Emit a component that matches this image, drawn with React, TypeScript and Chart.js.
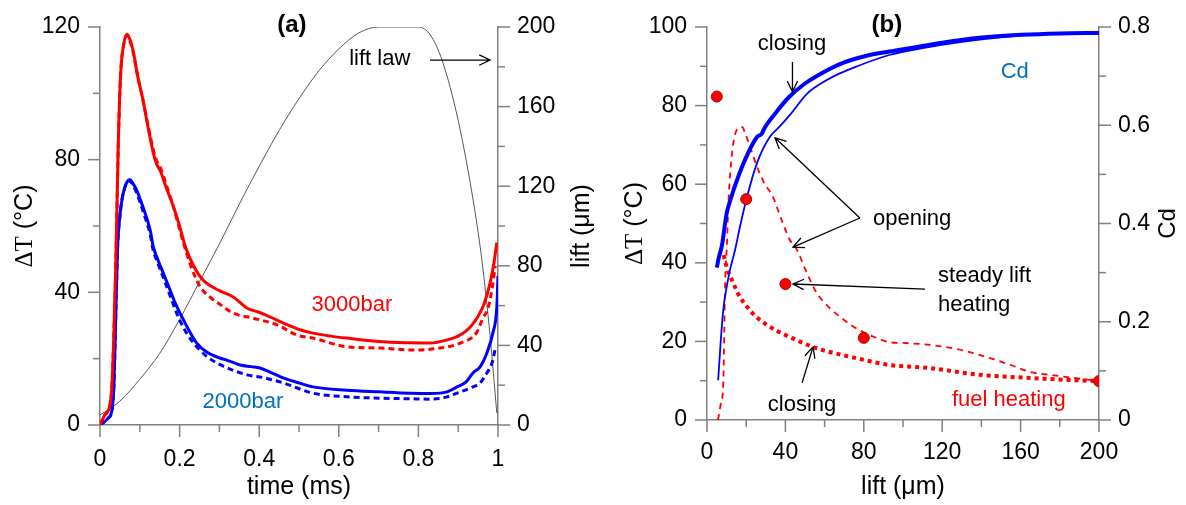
import { useEffect, useRef } from "react";
import { Chart, registerables } from "chart.js";

Chart.register(...registerables);

const SANS = '"Liberation Sans", Arial, Helvetica, sans-serif';
const SERIF = '"Liberation Serif", "Times New Roman", serif';
const AXIS_GREY = "#808080";
const RED = "#ff0000";
const BLUE = "#0000ff";
const LABEL_BLUE = "#0070c0";

// ---------- panel (a): temperature rise over the injection event ----------
const TIME_TICKS = [0, 0.2, 0.4, 0.6, 0.8, 1];
const TIME_MINOR = [0.1, 0.3, 0.5, 0.7, 0.9];
const DT_A_TICKS = [0, 40, 80, 120];
const DT_A_MINOR = [20, 60, 100];
const LIFT_A_TICKS = [0, 40, 80, 120, 160, 200];
const LIFT_A_MINOR = [20, 60, 100, 140, 180];

// needle lift law (µm) vs time (ms)
const liftLawTime = [0, 0.05, 0.1, 0.15, 0.2, 0.25, 0.3, 0.35, 0.4, 0.45, 0.5, 0.55, 0.6, 0.65, 0.7, 0.8, 0.83, 0.86, 0.9, 0.94, 0.96, 0.98, 0.997];
const liftLaw = [5, 12, 23, 36, 53, 72, 91, 111, 130, 148, 164, 178, 189, 197, 200, 200, 196, 183, 153, 110, 82, 45, 6];

// 3000 bar, solid curve
const t3000Solid = [0, 0.012, 0.025, 0.03, 0.035, 0.04, 0.046, 0.052, 0.06, 0.068, 0.076, 0.083, 0.095, 0.108, 0.122, 0.134, 0.143, 0.152, 0.165, 0.184, 0.2, 0.214, 0.235, 0.259, 0.3, 0.335, 0.37, 0.4, 0.427, 0.46, 0.5, 0.535, 0.58, 0.62, 0.7, 0.78, 0.83, 0.87, 0.9, 0.93, 0.95, 0.965, 0.98, 0.99, 0.997];
const dT3000Solid = [0, 3, 6, 12, 28, 50, 85, 106, 115, 117.8, 116, 113, 105, 98, 89, 82, 78.5, 76.5, 72, 66, 60, 54, 48, 43.7, 40.5, 38.6, 35.2, 34, 32.6, 30.8, 28.8, 27.7, 26.8, 26.2, 25.2, 24.8, 24.7, 25.6, 26.8, 29.5, 32.8, 36.5, 42.8, 49, 55];

// 3000 bar, dashed curve
const t3000Dashed = [0, 0.012, 0.025, 0.03, 0.035, 0.04, 0.046, 0.052, 0.06, 0.068, 0.076, 0.083, 0.095, 0.108, 0.122, 0.134, 0.143, 0.152, 0.165, 0.184, 0.2, 0.226, 0.25, 0.276, 0.3, 0.335, 0.385, 0.445, 0.495, 0.535, 0.62, 0.703, 0.787, 0.854, 0.905, 0.947, 0.962, 0.975, 0.985, 0.993];
const dT3000Dashed = [0, 3, 6, 12, 28, 50, 85, 106, 115, 117.5, 115.5, 112.5, 105, 98, 89.5, 83, 79.5, 77.5, 73, 66, 59, 48.7, 42, 38.6, 36.5, 33.7, 32.2, 30.2, 27.1, 26.2, 23.6, 23.2, 22.6, 23.2, 24.7, 28, 32.2, 35.2, 41, 48];

// 2000 bar, solid curve
const t2000Solid = [0, 0.02, 0.03, 0.035, 0.04, 0.044, 0.05, 0.056, 0.062, 0.068, 0.075, 0.082, 0.092, 0.108, 0.126, 0.134, 0.143, 0.159, 0.176, 0.19, 0.206, 0.226, 0.243, 0.268, 0.294, 0.32, 0.352, 0.38, 0.402, 0.43, 0.46, 0.5, 0.535, 0.62, 0.703, 0.78, 0.83, 0.872, 0.897, 0.92, 0.937, 0.955, 0.972, 0.987, 0.997, 1];
const dT2000Solid = [0, 2, 4.5, 12, 35, 53, 63, 68.5, 71.5, 73.3, 74, 73, 70.8, 65.7, 58.8, 53.7, 50.6, 45.8, 40.7, 36.5, 32.6, 28, 24.7, 22, 20.5, 19.5, 18.1, 17.6, 17.2, 15.8, 14.2, 12.7, 11.5, 10.5, 10, 9.6, 9.5, 10, 11.5, 13, 15.7, 17.5, 21.7, 27.7, 35.6, 45];

// 2000 bar, dashed curve
const t2000Dashed = [0, 0.02, 0.03, 0.035, 0.04, 0.044, 0.05, 0.056, 0.062, 0.068, 0.075, 0.082, 0.092, 0.108, 0.126, 0.134, 0.143, 0.159, 0.176, 0.19, 0.209, 0.23, 0.251, 0.27, 0.294, 0.33, 0.37, 0.41, 0.46, 0.535, 0.62, 0.703, 0.78, 0.829, 0.87, 0.897, 0.937, 0.955, 0.972, 0.985, 0.993];
const dT2000Dashed = [0, 2, 4.5, 12, 35, 53, 63, 68.5, 71.5, 73, 73.6, 72.5, 70, 64.5, 57.5, 52.5, 49.5, 44.5, 39, 34.5, 29.5, 25.5, 22.6, 20.5, 18.7, 16.7, 15.1, 14.3, 12.7, 9.6, 8.5, 8.1, 7.9, 7.8, 8.4, 9.6, 11.5, 12.7, 15.7, 18.7, 23];

// ---------- panel (b): fuel heating and Cd vs lift ----------
const LIFT_B_TICKS = [0, 40, 80, 120, 160, 200];
const LIFT_B_MINOR = [20, 60, 100, 140, 180];
const DT_B_TICKS = [0, 20, 40, 60, 80, 100];
const DT_B_MINOR = [10, 30, 50, 70, 90];
const CD_TICKS = [0, 0.2, 0.4, 0.6, 0.8];
const CD_MINOR = [0.1, 0.3, 0.5, 0.7];

// discharge coefficient, closing stroke (thick)
const liftCdClosing = [5, 6, 7.6, 10, 12.5, 15, 20, 25.5, 28, 29, 35, 42, 50, 59, 70, 80, 93, 105, 120, 139, 160, 180, 200];
const cdClosing = [0.31, 0.33, 0.355, 0.42, 0.455, 0.485, 0.535, 0.576, 0.583, 0.592, 0.625, 0.658, 0.685, 0.707, 0.728, 0.74, 0.75, 0.758, 0.768, 0.778, 0.784, 0.787, 0.788];

// discharge coefficient, opening stroke (thin)
const liftCdOpening = [5.7, 7, 8.3, 10, 11.7, 14.3, 16.8, 20.4, 25.5, 32, 37, 42.3, 51, 59, 68, 76.5, 93, 110, 130, 150, 175, 200];
const cdOpening = [0.081, 0.16, 0.224, 0.27, 0.305, 0.346, 0.393, 0.454, 0.523, 0.576, 0.597, 0.621, 0.664, 0.687, 0.706, 0.72, 0.743, 0.757, 0.77, 0.779, 0.786, 0.788];

// fuel heating, opening stroke (thin dashes)
const liftHeatOpening = [5.6, 7, 8.3, 8.8, 9.2, 10.2, 10.9, 12.6, 14, 16, 18, 19.4, 22, 25.5, 29, 33.7, 38, 42.3, 45.9, 50, 56, 62, 68, 74, 79.6, 86, 93, 100, 114, 125, 134, 144, 155, 165, 175, 184, 192, 200];
const dTHeatOpening = [0, 4, 9.3, 22, 34, 45, 55, 67, 72, 74.3, 74.5, 73, 69.5, 64.5, 60.5, 56.7, 51, 45.8, 43.3, 38.5, 32.3, 28.8, 26.2, 24, 22.4, 21, 19.8, 19.6, 19.1, 18.3, 17.3, 15.8, 14, 12.2, 11.5, 10.9, 10.4, 9.9];

// fuel heating, closing stroke (thick dots)
const liftHeatClosing = [8.5, 9.2, 11, 13.3, 16, 20.4, 25, 30.6, 36, 42.3, 48, 54, 61, 69.4, 80, 93, 114, 139, 165, 184, 200];
const dTHeatClosing = [42, 40.5, 37.5, 35, 32, 28.8, 26.3, 24.2, 22.6, 21.1, 19.8, 18.6, 17.5, 16.5, 15.3, 14, 13.2, 11.5, 10.7, 10.2, 9.9];

// steady-lift heating points
const liftSteady = [5, 20, 40, 80, 200];
const dTSteady = [82.3, 56.2, 34.6, 20.9, 9.9];

// ---------- helpers ----------
const font = (size: number, family = SANS, weight = "normal") => `${weight} ${size}px ${family}`;

function series(xs: number[], ys: number[]) {
  return xs.map((x, i) => ({ x, y: ys[i] }));
}

function line(label: string, xs: number[], ys: number[], color: string, width: number, dash: number[], axis: string) {
  return {
    label,
    data: series(xs, ys),
    borderColor: color,
    backgroundColor: color,
    borderWidth: width,
    borderDash: dash,
    borderCapStyle: "butt",
    borderJoinStyle: "round",
    pointRadius: 0,
    fill: false,
    cubicInterpolationMode: "monotone",
    yAxisID: axis,
  };
}

function axis(position: string, min: number, max: number, ticks: number[], pad: number, size: number) {
  return {
    type: "linear",
    position,
    min,
    max,
    grid: { display: false, drawTicks: false },
    border: { display: true, color: AXIS_GREY, width: 1.5 },
    ticks: {
      color: "#000",
      font: { family: SANS, size: 23 },
      padding: pad,
      maxRotation: 0,
      autoSkip: false,
      callback: (v: number) => String(v),
    },
    afterBuildTicks: (s: any) => {
      s.ticks = ticks.map((value) => ({ value }));
    },
    afterFit: (s: any) => {
      // fixed box sizes so the plot area sits where the layout padding puts it
      if (s.isHorizontal()) {
        s.height = size;
        s.paddingLeft = 0;
        s.paddingRight = 0;
      } else {
        s.width = size;
        s.paddingTop = 0;
        s.paddingBottom = 0;
      }
    },
  };
}

// major/minor tick marks drawn outside the axes
function tickMarks(specs: { id: string; major: number[]; minor: number[] }[]) {
  return {
    id: "tickMarks",
    afterDraw(chart: any) {
      const ctx = chart.ctx;
      ctx.save();
      ctx.strokeStyle = AXIS_GREY;
      ctx.lineWidth = 1.5;
      for (const s of specs) {
        const sc = chart.scales[s.id];
        const mark = (v: number, len: number) => {
          const p = sc.getPixelForValue(v);
          ctx.beginPath();
          if (sc.isHorizontal()) {
            ctx.moveTo(p, sc.top);
            ctx.lineTo(p, sc.top + len);
          } else if (sc.position === "left") {
            ctx.moveTo(sc.right, p);
            ctx.lineTo(sc.right - len, p);
          } else {
            ctx.moveTo(sc.left, p);
            ctx.lineTo(sc.left + len, p);
          }
          ctx.stroke();
        };
        s.major.forEach((v) => mark(v, 12));
        s.minor.forEach((v) => mark(v, 7));
      }
      ctx.restore();
    },
  };
}

type Piece = { text: string; font: string };
type TitleSpec = { pieces: Piece[]; x: (ca: any) => number; y: (ca: any) => number; vertical: boolean };

// axis titles, allowing mixed fonts inside one title
function axisTitles(items: TitleSpec[]) {
  return {
    id: "axisTitles",
    afterDraw(chart: any) {
      const ctx = chart.ctx;
      const ca = chart.chartArea;
      for (const it of items) {
        ctx.save();
        ctx.translate(it.x(ca), it.y(ca));
        if (it.vertical) ctx.rotate(-Math.PI / 2);
        ctx.fillStyle = "#000";
        ctx.textBaseline = "middle";
        ctx.textAlign = "left";
        let total = 0;
        for (const p of it.pieces) {
          ctx.font = p.font;
          total += ctx.measureText(p.text).width;
        }
        let x = -total / 2;
        for (const p of it.pieces) {
          ctx.font = p.font;
          ctx.fillText(p.text, x, 0);
          x += ctx.measureText(p.text).width;
        }
        ctx.restore();
      }
    },
  };
}

type Note =
  | { kind: "text"; x: number; y: number; yAxis: string; text: string; color?: string; font: string; align?: CanvasTextAlign }
  | { kind: "arrow"; x1: number; y1: number; x2: number; y2: number; yAxis: string };

function drawArrow(ctx: CanvasRenderingContext2D, x1: number, y1: number, x2: number, y2: number) {
  const a = Math.atan2(y2 - y1, x2 - x1);
  const h = 12;
  const s = 0.45;
  ctx.beginPath();
  ctx.moveTo(x1, y1);
  ctx.lineTo(x2, y2);
  ctx.moveTo(x2 - h * Math.cos(a - s), y2 - h * Math.sin(a - s));
  ctx.lineTo(x2, y2);
  ctx.lineTo(x2 - h * Math.cos(a + s), y2 - h * Math.sin(a + s));
  ctx.stroke();
}

// in-plot labels and arrows, placed in data coordinates
function notes(items: Note[]) {
  return {
    id: "notes",
    afterDraw(chart: any) {
      const ctx = chart.ctx;
      const xs = chart.scales.x;
      ctx.save();
      for (const n of items) {
        const ys = chart.scales[n.yAxis];
        if (n.kind === "text") {
          ctx.font = n.font;
          ctx.fillStyle = n.color || "#000";
          ctx.textAlign = n.align || "center";
          ctx.textBaseline = "middle";
          ctx.fillText(n.text, xs.getPixelForValue(n.x), ys.getPixelForValue(n.y));
        } else {
          ctx.strokeStyle = "#000";
          ctx.lineWidth = 1.3;
          drawArrow(
            ctx,
            xs.getPixelForValue(n.x1),
            ys.getPixelForValue(n.y1),
            xs.getPixelForValue(n.x2),
            ys.getPixelForValue(n.y2)
          );
        }
      }
      ctx.restore();
    },
  };
}

const NOTE_FONT = font(22);
const TITLE_FONT = font(25);

function configA(): any {
  return {
    type: "line",
    data: {
      datasets: [
        line("3000bar", t3000Solid, dT3000Solid, RED, 3, [], "y"),
        line("2000bar", t2000Solid, dT2000Solid, BLUE, 3, [], "y"),
        line("3000bar dashed", t3000Dashed, dT3000Dashed, RED, 3, [6, 4], "y"),
        line("2000bar dashed", t2000Dashed, dT2000Dashed, BLUE, 3, [6, 4], "y"),
        line("lift law", liftLawTime, liftLaw, "#555555", 1, [], "y1"),
      ],
    },
    options: {
      responsive: false,
      maintainAspectRatio: false,
      animation: false,
      layout: { padding: { top: 27, left: 0, right: 0, bottom: 0 } },
      plugins: { legend: { display: false }, tooltip: { enabled: false } },
      scales: {
        x: axis("bottom", 0, 1, TIME_TICKS, 21, 80),
        y: axis("left", 0, 120, DT_A_TICKS, 20, 100),
        y1: axis("right", 0, 200, LIFT_A_TICKS, 19, 102),
      },
    },
    plugins: [
      tickMarks([
        { id: "x", major: TIME_TICKS, minor: TIME_MINOR },
        { id: "y", major: DT_A_TICKS, minor: DT_A_MINOR },
        { id: "y1", major: LIFT_A_TICKS, minor: LIFT_A_MINOR },
      ]),
      axisTitles([
        {
          pieces: [{ text: "time (ms)", font: TITLE_FONT }],
          x: (ca) => (ca.left + ca.right) / 2,
          y: (ca) => ca.bottom + 62,
          vertical: false,
        },
        {
          pieces: [
            { text: "ΔT", font: font(25, SERIF) },
            { text: " (°C)", font: TITLE_FONT },
          ],
          x: (ca) => ca.left - 75,
          y: (ca) => (ca.top + ca.bottom) / 2,
          vertical: true,
        },
        {
          pieces: [{ text: "lift (μm)", font: TITLE_FONT }],
          x: (ca) => ca.right + 84,
          y: (ca) => (ca.top + ca.bottom) / 2,
          vertical: true,
        },
      ]),
      notes([
        { kind: "text", x: 0.482, y: 120.6, yAxis: "y", text: "(a)", font: font(24, SANS, "bold") },
        { kind: "text", x: 0.703, y: 184, yAxis: "y1", text: "lift law", font: NOTE_FONT },
        { kind: "arrow", x1: 0.829, y1: 183.4, x2: 0.98, y2: 183.4, yAxis: "y1" },
        { kind: "text", x: 0.633, y: 36.2, yAxis: "y", text: "3000bar", color: RED, font: NOTE_FONT },
        { kind: "text", x: 0.359, y: 6.9, yAxis: "y", text: "2000bar", color: LABEL_BLUE, font: NOTE_FONT },
      ]),
    ],
  };
}

function configB(): any {
  return {
    type: "line",
    data: {
      datasets: [
        {
          label: "steady lift heating",
          data: series(liftSteady, dTSteady),
          showLine: false,
          pointRadius: 5.5,
          pointBackgroundColor: RED,
          pointBorderColor: "#b00000",
          pointBorderWidth: 1,
          yAxisID: "y",
        },
        line("Cd closing", liftCdClosing, cdClosing, BLUE, 4, [], "y1"),
        line("Cd opening", liftCdOpening, cdOpening, BLUE, 1.8, [], "y1"),
        line("fuel heating closing", liftHeatClosing, dTHeatClosing, RED, 4, [4, 4], "y"),
        line("fuel heating opening", liftHeatOpening, dTHeatOpening, RED, 1.8, [6, 5], "y"),
      ],
    },
    options: {
      responsive: false,
      maintainAspectRatio: false,
      animation: false,
      layout: { padding: { top: 27, left: 0, right: 0, bottom: 0 } },
      plugins: { legend: { display: false }, tooltip: { enabled: false } },
      scales: {
        x: axis("bottom", 0, 200, LIFT_B_TICKS, 19, 85),
        y: axis("left", 0, 100, DT_B_TICKS, 20, 107),
        y1: axis("right", 0, 0.8, CD_TICKS, 19, 87),
      },
    },
    plugins: [
      tickMarks([
        { id: "x", major: LIFT_B_TICKS, minor: LIFT_B_MINOR },
        { id: "y", major: DT_B_TICKS, minor: DT_B_MINOR },
        { id: "y1", major: CD_TICKS, minor: CD_MINOR },
      ]),
      axisTitles([
        {
          pieces: [{ text: "lift (μm)", font: TITLE_FONT }],
          x: (ca) => (ca.left + ca.right) / 2,
          y: (ca) => ca.bottom + 67,
          vertical: false,
        },
        {
          pieces: [
            { text: "ΔT", font: font(25, SERIF) },
            { text: " (°C)", font: TITLE_FONT },
          ],
          x: (ca) => ca.left - 72,
          y: (ca) => (ca.top + ca.bottom) / 2,
          vertical: true,
        },
        {
          pieces: [{ text: "Cd", font: font(24) }],
          x: (ca) => ca.right + 69,
          y: (ca) => (ca.top + ca.bottom) / 2,
          vertical: true,
        },
      ]),
      notes([
        { kind: "text", x: 91.8, y: 100.5, yAxis: "y", text: "(b)", font: font(24, SANS, "bold") },
        { kind: "text", x: 43.4, y: 95.7, yAxis: "y", text: "closing", font: NOTE_FONT },
        { kind: "arrow", x1: 43.6, y1: 91.1, x2: 43.6, y2: 83.5, yAxis: "y" },
        { kind: "text", x: 157, y: 88.5, yAxis: "y", text: "Cd", color: LABEL_BLUE, font: NOTE_FONT },
        { kind: "text", x: 84.7, y: 51.1, yAxis: "y", text: "opening", font: NOTE_FONT, align: "left" },
        { kind: "arrow", x1: 78, y1: 51.4, x2: 34.7, y2: 71.8, yAxis: "y" },
        { kind: "arrow", x1: 78, y1: 51.4, x2: 43.9, y2: 44, yAxis: "y" },
        { kind: "text", x: 117.9, y: 36.6, yAxis: "y", text: "steady lift", font: NOTE_FONT, align: "left" },
        { kind: "text", x: 117.9, y: 29.3, yAxis: "y", text: "heating", font: NOTE_FONT, align: "left" },
        { kind: "arrow", x1: 111.2, y1: 33.3, x2: 43.9, y2: 34.6, yAxis: "y" },
        { kind: "text", x: 48.5, y: 3.8, yAxis: "y", text: "closing", font: NOTE_FONT },
        { kind: "arrow", x1: 48.5, y1: 9.4, x2: 54.1, y2: 18.6, yAxis: "y" },
        { kind: "text", x: 154, y: 5.1, yAxis: "y", text: "fuel heating", color: RED, font: NOTE_FONT },
      ]),
    ],
  };
}

function Panel({ width, makeConfig }: { width: number; makeConfig: () => any }) {
  const ref = useRef<HTMLCanvasElement>(null);
  useEffect(() => {
    const chart = new Chart(ref.current as HTMLCanvasElement, makeConfig());
    return () => chart.destroy();
  }, [makeConfig]);
  return <canvas ref={ref} width={width} height={505} style={{ display: "block", width, height: 505 }} />;
}

export default function App() {
  return (
    <div
      style={{
        position: "absolute",
        left: 0,
        top: 0,
        width: 1186,
        height: 505,
        display: "flex",
        background: "#fff",
      }}
    >
      <Panel width={600} makeConfig={configA} />
      <Panel width={586} makeConfig={configB} />
    </div>
  );
}
